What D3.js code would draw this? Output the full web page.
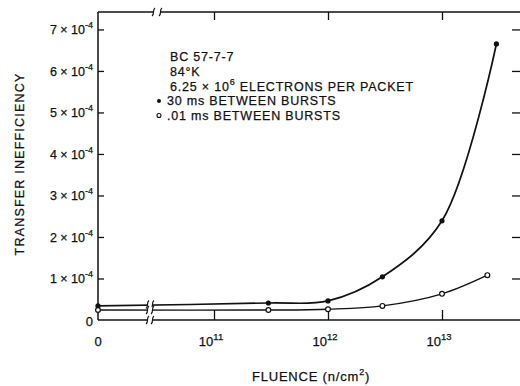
<!DOCTYPE html>
<html>
<head>
<meta charset="utf-8">
<script src="https://cdn.jsdelivr.net/npm/d3@7"></script>
<style>
  html, body { margin: 0; padding: 0; background: #fff; }
  svg { display: block; }
  text { font-family: "Liberation Sans", Arial, sans-serif; fill: #111; stroke: #111; stroke-width: 0.25px; }
</style>
</head>
<body>
<svg id="chart" width="520" height="386"></svg>
<script>
// Fluence values (n/cm^2); 0 sits on the linear stub left of the axis break
const fluence = [0, 3e11, 1e12, 3e12, 1e13, 3e13];
const fluenceOpen = [0, 3e11, 1e12, 3e12, 1e13, 2.5e13];
// Transfer inefficiency, 30 ms between bursts (filled circles)
const ineff30ms = [3.4e-5, 4.1e-5, 4.6e-5, 1.04e-4, 2.39e-4, 6.65e-4];
// Transfer inefficiency, .01 ms between bursts (open circles)
const ineff01ms = [2.4e-5, 2.4e-5, 2.6e-5, 3.4e-5, 6.3e-5, 1.08e-4];

const yTicks = [0, 1e-4, 2e-4, 3e-4, 4e-4, 5e-4, 6e-4, 7e-4];
const yTickMantissa = ["0", "1", "2", "3", "4", "5", "6", "7"];
const xTicks = [1e11, 1e12, 1e13];
const xTickExp = ["11", "12", "13"];
const notes = ["BC 57-7-7", "84\u00B0K"];

const svg = d3.select("#chart");
const plotL = 98, plotR = 521, plotT = 12, plotB = 320;
const breakX = 150;

const y = d3.scaleLinear().domain([0, 7.42e-4]).range([plotB, plotT]);
const xLog = d3.scaleLog().domain([1e11, 1e13]).range([214, 442]);
const xZero = d3.scaleLinear().domain([0, 1e11]).range([plotL, plotL + 30]);
const xPos = v => v === 0 ? xZero(v) : xLog(v);

const ink = "#111";

// frame lines
const frame = svg.append("g").attr("stroke", ink).attr("stroke-width", 1.5).attr("fill", "none");
frame.append("line").attr("x1", plotL).attr("x2", plotL).attr("y1", plotT).attr("y2", plotB);
frame.append("line").attr("x1", plotL).attr("x2", plotR).attr("y1", plotT).attr("y2", plotT);
frame.append("line").attr("x1", plotL).attr("x2", plotR).attr("y1", plotB).attr("y2", plotB);
frame.append("line").attr("x1", plotR).attr("x2", plotR).attr("y1", plotT).attr("y2", plotB);

// left and right axes: inward ticks
const yAxisL = d3.axisRight(y).tickValues(yTicks.slice(1)).tickSize(6).tickFormat("");
svg.append("g").attr("transform", `translate(${plotL},0)`).call(yAxisL)
  .call(g => g.select(".domain").remove())
  .call(g => g.selectAll("line").attr("stroke", ink).attr("stroke-width", 1.3));
const yAxisR = d3.axisLeft(y).tickValues(yTicks.slice(1)).tickSize(9).tickFormat("");
svg.append("g").attr("transform", `translate(${plotR},0)`).call(yAxisR)
  .call(g => g.select(".domain").remove())
  .call(g => g.selectAll("line").attr("stroke", ink).attr("stroke-width", 1.3));

// labels of the form "n × 10^-4"
const yLab = svg.append("g").attr("font-size", 12.5);
yTicks.forEach((v, i) => {
  const t = yLab.append("text").attr("x", plotL - 5).attr("y", y(v) + 5).attr("text-anchor", "end");
  if (v === 0) { t.text("0").attr("font-size", 13).attr("y", y(v) + 6); return; }
  t.append("tspan").text(yTickMantissa[i] + " \u00D7 10");
  t.append("tspan").text("-4").attr("font-size", 9).attr("dy", -6);
});

// bottom / top log ticks
const xAxisB = d3.axisTop(xLog).tickValues(xTicks).tickSize(10).tickFormat("");
svg.append("g").attr("transform", `translate(0,${plotB})`).call(xAxisB)
  .call(g => g.select(".domain").remove())
  .call(g => g.selectAll("line").attr("stroke", ink).attr("stroke-width", 1.3));
const xAxisT = d3.axisBottom(xLog).tickValues(xTicks).tickSize(8).tickFormat("");
svg.append("g").attr("transform", `translate(0,${plotT})`).call(xAxisT)
  .call(g => g.select(".domain").remove())
  .call(g => g.selectAll("line").attr("stroke", ink).attr("stroke-width", 1.3));

const xLab = svg.append("g").attr("font-size", 13);
xLab.append("text").attr("x", xZero(0)).attr("y", 346).attr("text-anchor", "middle").text("0");
xTicks.forEach((v, i) => {
  const t = xLab.append("text").attr("x", xLog(v) - 3).attr("y", 346).attr("text-anchor", "middle");
  t.append("tspan").text("10");
  t.append("tspan").text(xTickExp[i]).attr("font-size", 9.5).attr("dy", -6);
});

// series
const line = d3.line().x(d => xPos(d[0])).y(d => y(d[1])).curve(d3.curveCatmullRom.alpha(0.5));
const s30 = fluence.map((f, i) => [f, ineff30ms[i]]);
const s01 = fluenceOpen.map((f, i) => [f, ineff01ms[i]]);
svg.append("path").datum(s30).attr("d", line).attr("fill", "none").attr("stroke", ink).attr("stroke-width", 1.7);
svg.append("path").datum(s01).attr("d", line).attr("fill", "none").attr("stroke", ink).attr("stroke-width", 1.4);

svg.append("g").selectAll("circle").data(s30).join("circle")
  .attr("cx", d => xPos(d[0])).attr("cy", d => y(d[1])).attr("r", 2.6).attr("fill", ink);
svg.append("g").selectAll("circle").data(s01).join("circle")
  .attr("cx", d => xPos(d[0])).attr("cy", d => y(d[1])).attr("r", 2.4)
  .attr("fill", "#fff").attr("stroke", ink).attr("stroke-width", 1.2);

// axis-break marks on the bottom axis, both series and the top axis
function breakMark(cx, cy, gap) {
  const g = svg.append("g");
  g.append("rect").attr("x", cx - gap / 2).attr("y", cy - 3).attr("width", gap).attr("height", 6).attr("fill", "#fff");
  [cx - gap / 2, cx + gap / 2].forEach(bx => {
    g.append("path")
      .attr("d", `M${bx - 1.5},${cy + 4} C${bx + 1.5},${cy + 2} ${bx - 1.5},${cy - 2} ${bx + 1.5},${cy - 4}`)
      .attr("fill", "none").attr("stroke", ink).attr("stroke-width", 1.2);
  });
}
breakMark(breakX, plotB, 5);
breakMark(breakX, y(d3.mean([ineff30ms[0], ineff30ms[1]])), 5);
breakMark(breakX, y(ineff01ms[0]), 5);
breakMark(breakX + 7, plotT, 7);

// annotation block
const ann = svg.append("g").attr("font-size", 12.5).attr("letter-spacing", 0.8);
ann.append("text").attr("x", 170).attr("y", 61).text(notes[0]);
ann.append("text").attr("x", 170).attr("y", 75.5).text(notes[1]);
const el = ann.append("text").attr("x", 170).attr("y", 90.5);
el.append("tspan").text("6.25 \u00D7 10");
el.append("tspan").text("6").attr("font-size", 9).attr("dy", -6);
el.append("tspan").text(" ELECTRONS PER PACKET").attr("dy", 6);
ann.append("circle").attr("cx", 159).attr("cy", 101).attr("r", 2).attr("fill", ink);
ann.append("text").attr("x", 167).attr("y", 105).text("30 ms BETWEEN BURSTS");
ann.append("circle").attr("cx", 159).attr("cy", 115.5).attr("r", 2).attr("fill", "#fff").attr("stroke", ink).attr("stroke-width", 1.1);
ann.append("text").attr("x", 167).attr("y", 119.5).text(".01 ms BETWEEN BURSTS");

// axis titles
const xt = svg.append("text").attr("x", 311).attr("y", 381).attr("text-anchor", "middle")
  .attr("font-size", 13).attr("letter-spacing", 0.8);
xt.append("tspan").text("FLUENCE (n/cm");
xt.append("tspan").text("2").attr("font-size", 9).attr("dy", -6);
xt.append("tspan").text(")").attr("dy", 6);

svg.append("text").attr("transform", "translate(24,164) rotate(-90)").attr("text-anchor", "middle")
  .attr("font-size", 12.5).attr("letter-spacing", 1.2).text("TRANSFER INEFFICIENCY");
</script>
</body>
</html>
